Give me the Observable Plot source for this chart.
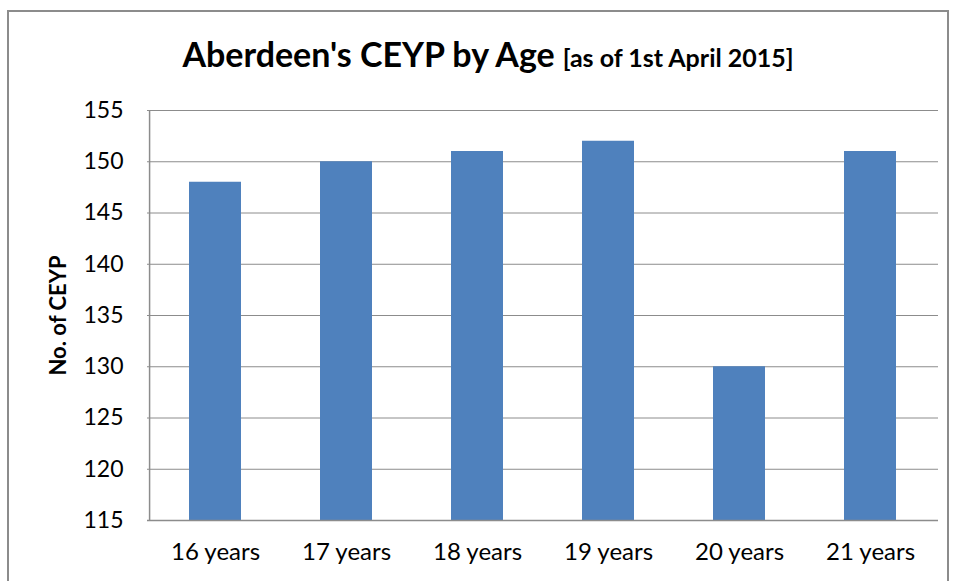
<!DOCTYPE html>
<html>
<head>
<meta charset="utf-8">
<script src="https://cdn.jsdelivr.net/npm/d3@7"></script>
<script src="https://cdn.jsdelivr.net/npm/@observablehq/plot@0.6"></script>
<style>
  html, body { margin: 0; padding: 0; background: #fff; }
  body { width: 956px; height: 581px; position: relative; overflow: hidden; font-family: Lato, "Open Sans", sans-serif; }
  #frame { position: absolute; left: 7px; top: 10px; width: 942px; height: 600px; border: 2px solid #8c8c8c; box-sizing: border-box; }
  #title { position: absolute; left: 10px; width: 956px; top: 32px; text-align: center; font-weight: bold; color: #000; white-space: nowrap; line-height: 44px; }
  #title .main { font-size: 34px; }
  #title .sub { font-size: 25px; margin-left: 8px; }
  #chart { position: absolute; left: 0; top: 0; }
</style>
</head>
<body>
<div id="frame"></div>
<div id="title"><span class="main">Aberdeen's CEYP by Age</span><span class="sub">[as of 1st April 2015]</span></div>
<div id="chart"></div>
<script>
const ages = ["16 years", "17 years", "18 years", "19 years", "20 years", "21 years"];
const counts = [148, 150, 151, 152, 130, 151];
const yTicks = [115, 120, 125, 130, 135, 140, 145, 150, 155];

const data = ages.map((a, i) => ({age: a, count: counts[i]}));

const W = 956, ML = 147, MR = 18;
const step = (W - ML - MR) / ages.length;

const chart = Plot.plot({
  width: W,
  height: 581,
  marginLeft: ML,
  marginRight: MR,
  marginTop: 110,
  marginBottom: 61,
  style: {background: "transparent", fontFamily: "Lato, 'Open Sans', sans-serif", color: "#000"},
  x: {domain: ages, paddingInner: 0.6, paddingOuter: 0.3, label: null},
  y: {domain: [115, 155], ticks: yTicks, label: null},
  marks: [
    Plot.gridY(yTicks, {stroke: "#8c8c8c", strokeOpacity: 1, strokeWidth: 1}),
    Plot.barY(data, {x: "age", y1: 115, y2: "count", fill: "#4F81BD"}),
    Plot.ruleX([ages[0]], {dx: -step / 2, y1: 115, y2: 155, stroke: "#8c8c8c", strokeWidth: 1.5}),
    Plot.ruleY([115], {stroke: "#8c8c8c", strokeWidth: 1.5}),
    Plot.axisY(yTicks, {tickSize: 0, tickPadding: 24, fontSize: 23, tickFormat: d => String(d), label: null}),
    Plot.axisX({tickSize: 0, tickPadding: 22, fontSize: 24, label: null}),
    Plot.text(["No. of CEYP"], {frameAnchor: "left", textAnchor: "middle", dx: -89, rotate: -90, fontSize: 22, fontWeight: "bold", fill: "#000"})
  ]
});
document.getElementById("chart").appendChild(chart);
</script>
</body>
</html>
